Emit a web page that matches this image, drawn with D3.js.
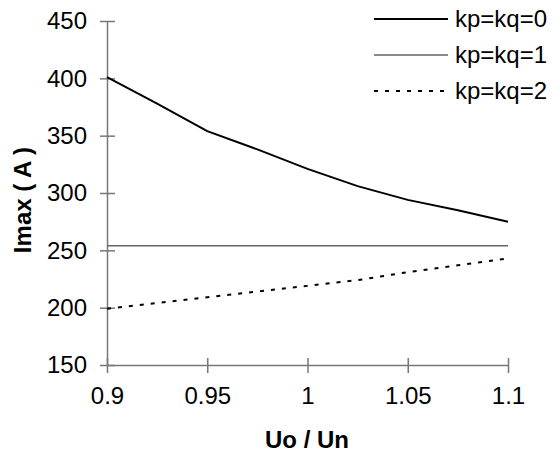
<!DOCTYPE html>
<html>
<head>
<meta charset="utf-8">
<script src="https://cdn.jsdelivr.net/npm/d3@7"></script>
<style>
  body { margin: 0; background: #fff; }
  text { font-family: "Liberation Sans", Arial, sans-serif; }
</style>
</head>
<body>
<svg id="chart" width="554" height="454"></svg>
<script>
// x values (Uo / Un)
var uRatio = [0.9, 0.925, 0.95, 0.975, 1.0, 1.025, 1.05, 1.075, 1.1];
// Imax (A) for each case
var kq0 = [401, 378, 354, 338, 321, 306, 294, 285, 275];
var kq1 = [254, 254, 254, 254, 254, 254, 254, 254, 254];
var kq2 = [199, 204, 209, 214, 219, 224, 231, 237, 243];
var seriesNames = ["kp=kq=0", "kp=kq=1", "kp=kq=2"];
var xTicks = [0.9, 0.95, 1, 1.05, 1.1];
var yTicks = [150, 200, 250, 300, 350, 400, 450];

var svg = d3.select("#chart");

var x = d3.scaleLinear().domain([0.9, 1.1]).range([107, 508]);
var y = d3.scaleLinear().domain([150, 450]).range([365, 21]);

const axisColor = "#777";
const fontSize = 24;

// y axis
var yAxis = svg.append("g")
  .attr("transform", "translate(107,0)")
  .call(d3.axisLeft(y).tickValues(yTicks).tickSize(0).tickPadding(20));
yAxis.select(".domain").attr("stroke", axisColor).attr("stroke-width", 1.5);
yAxis.selectAll("text").attr("font-size", fontSize).attr("fill", "#000");
yAxis.selectAll(".tick").append("line")
  .attr("x1", -7).attr("x2", 8)
  .attr("stroke", axisColor).attr("stroke-width", 1.5);

// x axis
var xAxis = svg.append("g")
  .attr("transform", "translate(0,365)")
  .call(d3.axisBottom(x).tickValues(xTicks).tickSize(0).tickPadding(22)
    .tickFormat(d3.format("")));
xAxis.select(".domain").attr("stroke", axisColor).attr("stroke-width", 1.5);
xAxis.selectAll("text").attr("font-size", fontSize).attr("fill", "#000");
xAxis.selectAll(".tick").append("line")
  .attr("y1", -7).attr("y2", 8)
  .attr("stroke", axisColor).attr("stroke-width", 1.5);

// axis titles
svg.append("text")
  .attr("x", 307).attr("y", 448)
  .attr("text-anchor", "middle")
  .attr("font-size", fontSize).attr("font-weight", "bold")
  .text("Uo / Un");

svg.append("text")
  .attr("transform", "translate(31,200) rotate(-90)")
  .attr("text-anchor", "middle")
  .attr("font-size", fontSize).attr("font-weight", "bold")
  .text("Imax ( A )");

// lines
var line = d3.line()
  .x((d, i) => x(uRatio[i]))
  .y(d => y(d));

var styles = [
  { stroke: "#000", width: 2, dash: null },
  { stroke: "#666", width: 1.5, dash: null },
  { stroke: "#000", width: 2, dash: "4,7" }
];
var allSeries = [kq0, kq1, kq2];

allSeries.forEach(function(s, i) {
  svg.append("path")
    .datum(s)
    .attr("d", line)
    .attr("fill", "none")
    .attr("stroke", styles[i].stroke)
    .attr("stroke-width", styles[i].width)
    .attr("stroke-dasharray", styles[i].dash);
});

// legend
var legend = svg.append("g");
seriesNames.forEach(function(name, i) {
  var ly = 19 + i * 36;
  legend.append("line")
    .attr("x1", 374).attr("x2", 448)
    .attr("y1", ly).attr("y2", ly)
    .attr("stroke", styles[i].stroke)
    .attr("stroke-width", styles[i].width)
    .attr("stroke-dasharray", styles[i].dash);
  legend.append("text")
    .attr("x", 455).attr("y", ly)
    .attr("dy", "0.35em")
    .attr("font-size", fontSize)
    .text(name);
});
</script>
</body>
</html>
